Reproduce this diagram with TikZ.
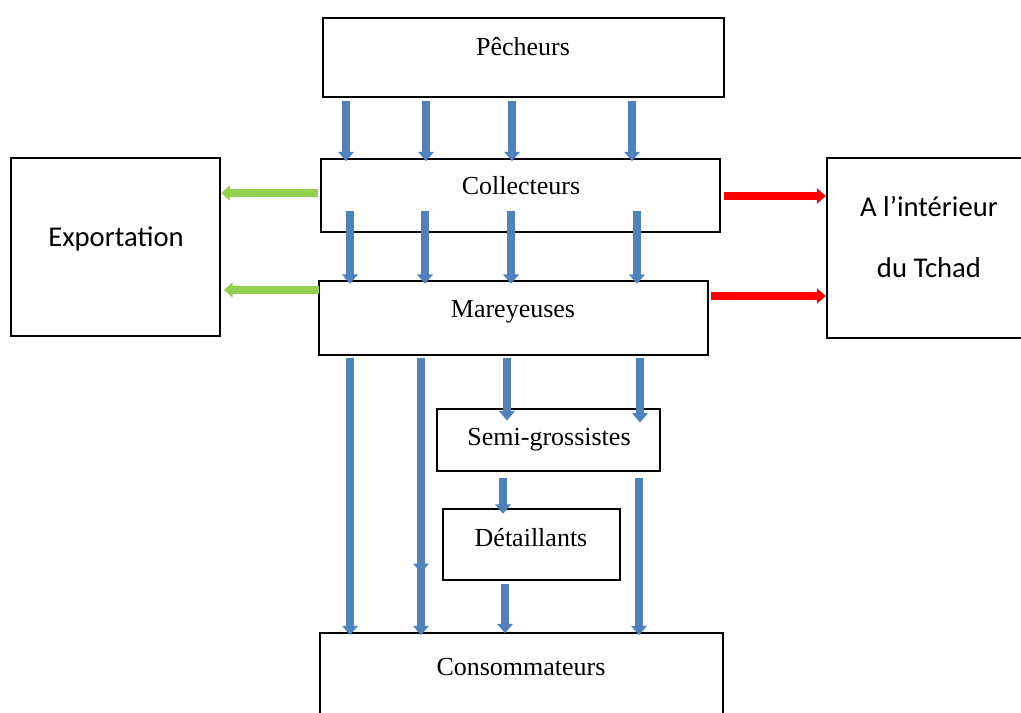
\documentclass[tikz,border=0pt]{standalone}
\usepackage{fontspec}
\setmainfont{Liberation Serif}
\newfontfamily\calibri{Carlito}
\usetikzlibrary{arrows.meta}
\definecolor{bluear}{RGB}{79,129,189}
\definecolor{greenar}{RGB}{146,208,80}
\definecolor{redar}{RGB}{255,0,0}
\begin{document}
\begin{tikzpicture}[x=0.75pt,y=-0.75pt,
  box/.style={draw=black,line width=1.8pt,fill=white,inner sep=0pt},
  lbl/.style={font=\fontsize{19.5}{23}\selectfont,anchor=base,inner sep=0pt},
  slbl/.style={font=\calibri\fontsize{21.5}{26}\selectfont,anchor=base,inner sep=0pt},
  barrow/.style={draw=bluear,line width=5.5pt,-{Triangle[width=11.5pt,length=7pt]}},
  garrow/.style={draw=greenar,line width=5.5pt,-{Triangle[width=11pt,length=6.5pt]}},
  rarrow/.style={draw=redar,line width=5.5pt,-{Triangle[width=11pt,length=6.5pt]}}]
\useasboundingbox (0,0) rectangle (1021,713);
% boxes
\node[box,minimum width=300.75pt,minimum height=59.25pt] (p) at (523.5,57.5) {};
\node[box,minimum width=299.25pt,minimum height=54.75pt] (c) at (520.5,195.5) {};
\node[box,minimum width=291.75pt,minimum height=55.5pt] (m) at (513.5,318) {};
\node[box,minimum width=156.75pt,minimum height=133.5pt] (e) at (115.5,247) {};
\node[box,minimum width=152.25pt,minimum height=135pt] (t) at (928.5,248) {};
\node[box,minimum width=167.25pt,minimum height=46.5pt] (s) at (548.5,440) {};
\node[box,minimum width=132.75pt,minimum height=53.25pt] (d) at (531.5,544.5) {};
\node[box,minimum width=302.25pt,minimum height=65.25pt] (k) at (521.5,676.5) {};
% labels
\node[lbl] (pl) at (523,56) {Pêcheurs};
\node[lbl] (cl) at (521,195) {Collecteurs};
\node[lbl] (ml) at (513,317) {Mareyeuses};
\node[lbl] (sl) at (549,445) {Semi-grossistes};
\node[lbl] (dl) at (531,546) {Détaillants};
\node[lbl] (kl) at (521,675) {Consommateurs};
\node[slbl] (el) at (116,246) {Exportation};
\node[slbl] (tl1) at (929,217) {A l’intérieur};
\node[slbl] (tl2) at (929,277) {du Tchad};
% column coordinates
\coordinate (a1) at (346,0);
\coordinate (a2) at (426,0);
\coordinate (a3) at (512,0);
\coordinate (a4) at (632,0);
\coordinate (b1) at (350,0);
\coordinate (b2) at (425,0);
\coordinate (b3) at (511,0);
\coordinate (b4) at (637,0);
\coordinate (c1) at (350,0);
\coordinate (c2) at (421,0);
\coordinate (c3) at (507,0);
\coordinate (c4) at (640,0);
\coordinate (d1) at (503,0);
\coordinate (d2) at (639,0);
\coordinate (d3) at (505,0);
\coordinate (mid1) at (421,573);
\coordinate (mid2) at (421,552);
\coordinate (g1) at (0,193);
\coordinate (g2) at (0,290);
\coordinate (r1) at (0,196);
\coordinate (r2) at (0,296);
% Pecheurs -> Collecteurs
\foreach \x in {a1,a2,a3,a4}
  \draw[barrow,shorten <=2pt,shorten >=-2.5pt] (p.south -| \x) -- (c.north -| \x);
% Collecteurs -> Mareyeuses
\foreach \x in {b1,b2,b3,b4}
  \draw[barrow,shorten <=-16.5pt,shorten >=-3pt] (c.south -| \x) -- (m.north -| \x);
% Mareyeuses -> Consommateurs
\draw[barrow,shorten <=1pt,shorten >=-2.5pt] (m.south -| c1) -- (k.north -| c1);
\draw[barrow,shorten <=1pt] (m.south -| c2) -- (mid1);
\draw[barrow,shorten >=-2.5pt] (mid2) -- (k.north -| c2);
% Mareyeuses -> Semi-grossistes
\draw[barrow,shorten <=1pt,shorten >=-9.5pt] (m.south -| c3) -- (s.north -| c3);
\draw[barrow,shorten <=1pt,shorten >=-11pt] (m.south -| c4) -- (s.north -| c4);
% Semi-grossistes -> Detaillants / Consommateurs
\draw[barrow,shorten <=4pt,shorten >=-4.5pt] (s.south -| d1) -- (d.north -| d1);
\draw[barrow,shorten <=4.5pt,shorten >=-2.5pt] (s.south -| d2) -- (k.north -| d2);
% Detaillants -> Consommateurs
\draw[barrow,shorten <=2pt,shorten >=-1pt] (d.south -| d3) -- (k.north -| d3);
% export
\draw[garrow,shorten <=1pt] (c.west |- g1) -- (e.east |- g1);
\draw[garrow,shorten <=-1pt,shorten >=2pt] (m.west |- g2) -- (e.east |- g2);
% interior
\draw[rarrow,shorten <=2pt] (c.east |- r1) -- (t.west |- r1);
\draw[rarrow,shorten <=1pt] (m.east |- r2) -- (t.west |- r2);
\end{tikzpicture}
\end{document}
